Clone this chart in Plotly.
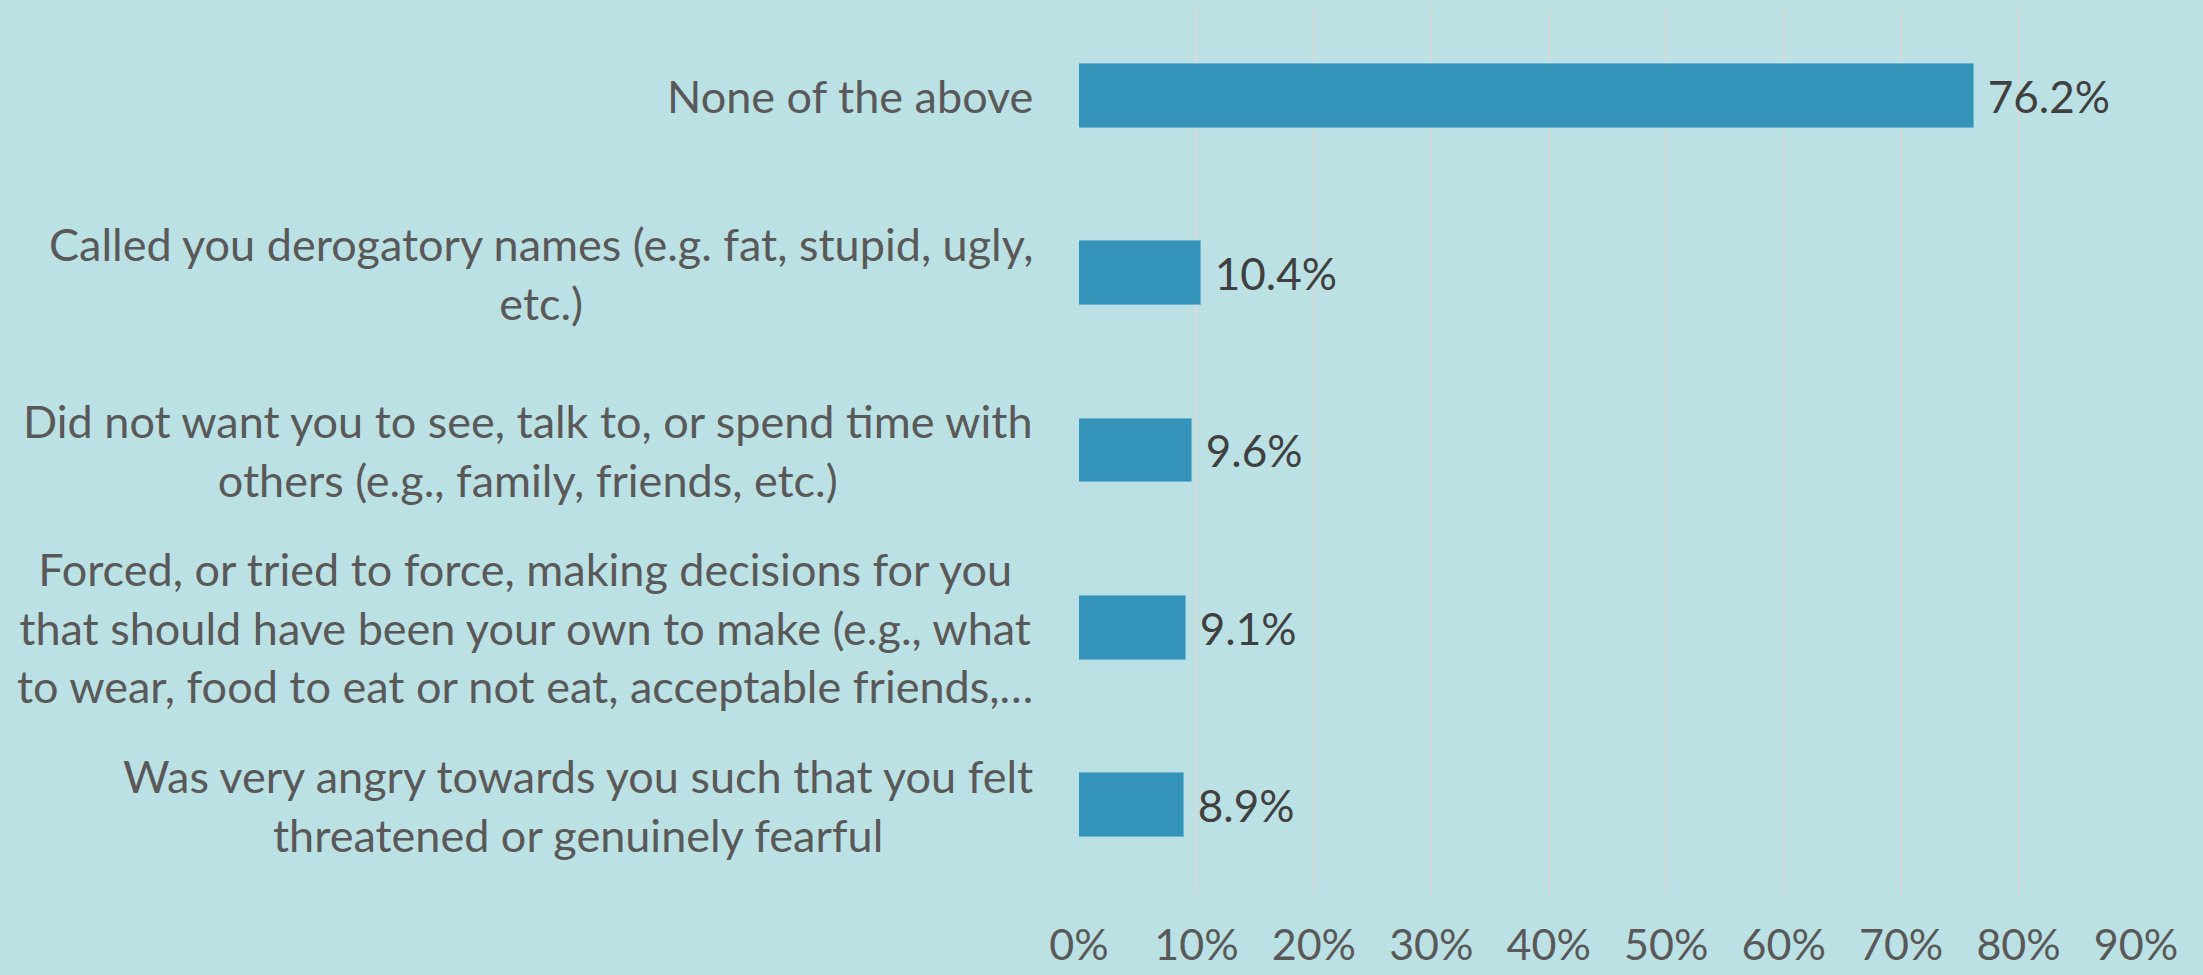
import plotly.graph_objs as go

categories = [
    "None of the above",
    "Called you derogatory names (e.g. fat, stupid, ugly,<br>etc.)",
    "Did not want you to see, talk to, or spend time with<br>others (e.g., family, friends, etc.)",
    "Forced, or tried to force, making decisions for you<br>that should have been your own to make (e.g., what<br>to wear, food to eat or not eat, acceptable friends,…",
    "Was very angry towards you such that you felt<br>threatened or genuinely fearful",
]
values = [0.762, 0.104, 0.096, 0.091, 0.089]
tick_vals = [0, 0.1, 0.2, 0.3, 0.4, 0.5, 0.6, 0.7, 0.8, 0.9]
tick_text = ["0%", "10%", "20%", "30%", "40%", "50%", "60%", "70%", "80%", "90%"]

BG = "#BCE1E4"
FONT = "Lato, 'Open Sans', sans-serif"

trace = go.Bar(
    x=values, y=list(range(len(categories))), orientation="h",
    width=0.36,
    marker=dict(color="#3594BA", line=dict(color="#6DB5D1", width=1)),
    texttemplate="\u00a0%{x:.1%}", textposition="outside",
    constraintext="none", cliponaxis=False,
    outsidetextfont=dict(family=FONT, size=44, color="#404040"),
    showlegend=False, hoverinfo="skip",
)

fig = go.Figure(data=trace)

# category labels, right-aligned block with centred lines like excel
for i, name in enumerate(categories):
    fig.add_annotation(
        x=0, y=i, xref="x", yref="y", text=name, showarrow=False,
        xanchor="right", yanchor="middle", align="center", xshift=-44,
        font=dict(family=FONT, size=45, color="#595959"),
    )

fig.update_layout(
    width=2203, height=975,
    margin=dict(l=1079, r=67, t=7, b=81, autoexpand=False),
    paper_bgcolor=BG, plot_bgcolor=BG,
    bargap=0,
    xaxis=dict(
        range=[0, 0.9], tickvals=tick_vals, ticktext=tick_text,
        showgrid=True, gridcolor="#D6D9D9", gridwidth=2,
        zeroline=False, showline=False, ticks="",
        automargin=False, ticklabelstandoff=22,
        tickfont=dict(family=FONT, size=43, color="#595959"),
    ),
    yaxis=dict(
        range=[4.5, -0.5], showticklabels=False, showgrid=False,
        zeroline=False, showline=False, ticks="", automargin=False,
    ),
)

fig.write_html("out.html", config={"displayModeBar": False},
               post_script="document.body.style.margin='0';")
